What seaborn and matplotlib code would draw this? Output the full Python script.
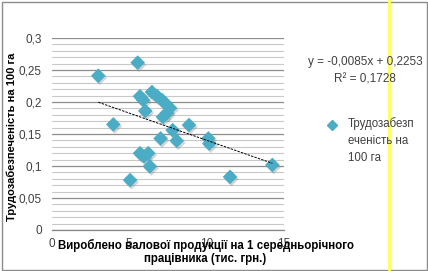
import matplotlib
matplotlib.use("Agg")
import matplotlib.pyplot as plt
import matplotlib.patheffects as pe
from matplotlib.lines import Line2D
from matplotlib.patches import Rectangle
import numpy as np
import pandas as pd
import seaborn as sns

# ---- data ----
x_vals = [3.02, 5.56, 3.99, 5.71, 5.92, 6.05,
          6.48, 6.81, 7.13, 7.39, 7.65, 7.45, 7.19,
          8.87, 7.82, 7.04, 8.08, 10.12, 10.18,
          5.71, 6.24, 5.97, 6.35, 5.07, 11.52, 14.25]
y_vals = [0.241, 0.2615, 0.165, 0.209, 0.203, 0.186,
          0.2156, 0.2094, 0.2031, 0.1969, 0.1906, 0.1828, 0.1766,
          0.164, 0.156, 0.143, 0.1395, 0.143, 0.135,
          0.12, 0.12, 0.115, 0.0995, 0.078, 0.083, 0.1016]
trend_slope = -0.0085
trend_intercept = 0.2253
trend_r2 = 0.1728
y_ticks = [0, 0.05, 0.1, 0.15, 0.2, 0.25, 0.3]
y_tick_labels = ["0", "0,05", "0,1", "0,15", "0,2", "0,25", "0,3"]
x_ticks = [0, 5, 10, 15]
x_tick_labels = ["0", "5", "10", "15"]
series_name = "Трудозабезп\nеченість на\n100 га"
x_title = "Вироблено валової продукції на 1 середньорічного\nпрацівника (тис. грн.)"
y_title = "Трудозабезпеченість на 100 га"

sns.set_style("white")
plt.rcParams['font.family'] = ['Liberation Sans', 'DejaVu Sans']

W, H = 428, 271
fig = plt.figure(figsize=(W / 100, H / 100), dpi=100)
ax = fig.add_axes([51.5 / W, 1 - 230 / H, (284 - 51.5) / W, (230 - 38) / H])

COL = "#4BACC6"
TXT = "#404040"

df = pd.DataFrame({"x": x_vals, "y": y_vals})

ax.set_xlim(0, 15)
ax.set_ylim(0, 0.3)

# gridlines
ax.set_yticks(y_ticks)
ax.set_yticks(np.arange(0, 0.3001, 0.01), minor=True)
ax.grid(True, axis="y", which="minor", color="#c8c8c8", lw=0.8, zorder=0)
ax.grid(True, axis="y", which="major", color="#8c8c8c", lw=0.9, zorder=0)
ax.set_axisbelow(True)

sns.scatterplot(data=df, x="x", y="y", marker="D", s=56, color=COL,
                edgecolor="none", linewidth=0, ax=ax, legend=False, zorder=3,
                path_effects=[pe.SimplePatchShadow(offset=(1, -1.5), shadow_rgbFace="#888888", alpha=0.35), pe.Normal()])

# trendline
tx = np.array([min(x_vals), max(x_vals)])
ax.plot(tx, trend_slope * tx + trend_intercept, color="black", lw=0.7,
        ls=(0, (2.5, 1.2)), zorder=4)

for s in ["top", "right", "left"]:
    ax.spines[s].set_visible(False)
ax.spines["bottom"].set_color("#868686")
ax.spines["bottom"].set_linewidth(0.9)

ax.set_yticklabels(y_tick_labels)
ax.set_xticks(x_ticks)
ax.set_xticklabels(x_tick_labels)
ax.tick_params(axis="y", length=0, pad=7, labelsize=8.5, labelcolor=TXT)
ax.tick_params(axis="x", length=3, width=0.8, color="#868686", direction="out",
               pad=3, labelsize=8.5, labelcolor=TXT)
ax.set_xlabel("")
ax.set_ylabel("")

# axis titles
fig.text(205.5 / W, 1 - 252 / H, x_title, ha="center", va="center",
         fontsize=8.3, fontweight="bold", color="black", linespacing=1.2)
fig.text(12 / W, 1 - 137 / H, y_title, ha="center", va="center", rotation=90,
         fontsize=8, fontweight="bold", color="black")

# trendline equation
fig.text(365 / W, 1 - 62 / H, "y = -0,0085x + 0,2253", ha="center", va="center",
         fontsize=8.5, color=TXT)
fig.text(365 / W, 1 - 79 / H, "R² = 0,1728", ha="center", va="center",
         fontsize=8.5, color=TXT)

# legend
fig.add_artist(Line2D([332 / W], [1 - 125 / H], marker="D", markersize=5,
                      color=COL, ls="none", transform=fig.transFigure))
for i, line in enumerate(series_name.split("\n")):
    fig.text(347.5 / W, 1 - (124 + 17 * i) / H, line, ha="left", va="center",
             fontsize=8.3, color=TXT)

# yellow line and frame
fig.add_artist(Line2D([388.5 / W] * 2, [0, 1], color="#ffff55", lw=2,
                      transform=fig.transFigure))
fig.add_artist(Rectangle((1.5 / W, 1.5 / H), (W - 3) / W, (H - 3) / H,
                         fill=False, ec="#8c8c8c", lw=1, transform=fig.transFigure))

fig.savefig("out.png", dpi=100)
